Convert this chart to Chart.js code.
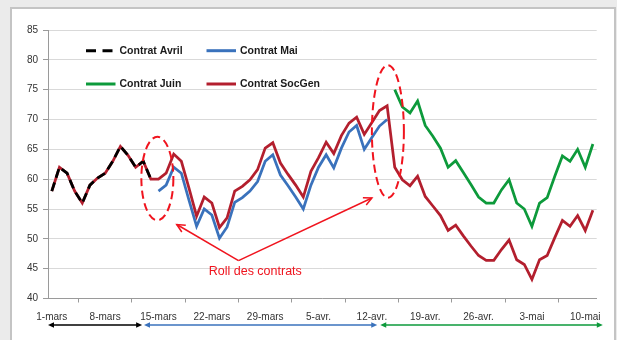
<!DOCTYPE html>
<html><head><meta charset="utf-8">
<script src="https://cdn.jsdelivr.net/npm/chart.js@4.4.1/dist/chart.umd.min.js"></script>
<style>html,body{margin:0;padding:0;background:#ebebeb;overflow:hidden}</style>
</head><body>
<canvas id="c" width="617" height="340"></canvas>
<script>
const categories = [
 "1-mars","2-mars","3-mars","4-mars","5-mars","6-mars","7-mars","8-mars","9-mars","10-mars",
 "11-mars","12-mars","13-mars","14-mars","15-mars","16-mars","17-mars","18-mars","19-mars","20-mars",
 "21-mars","22-mars","23-mars","24-mars","25-mars","26-mars","27-mars","28-mars","29-mars","30-mars","31-mars",
 "1-avr.","2-avr.","3-avr.","4-avr.","5-avr.","6-avr.","7-avr.","8-avr.","9-avr.","10-avr.",
 "11-avr.","12-avr.","13-avr.","14-avr.","15-avr.","16-avr.","17-avr.","18-avr.","19-avr.","20-avr.",
 "21-avr.","22-avr.","23-avr.","24-avr.","25-avr.","26-avr.","27-avr.","28-avr.","29-avr.","30-avr.",
 "1-mai","2-mai","3-mai","4-mai","5-mai","6-mai","7-mai","8-mai","9-mai","10-mai","11-mai"
];
const tickLabels = ["1-mars","8-mars","15-mars","22-mars","29-mars","5-avr.","12-avr.","19-avr.","26-avr.","3-mai","10-mai"];
const yTicks = [40,45,50,55,60,65,70,75,80,85];

const avril = [58,62,61,58,56,59,60.2,61,63,65.5,64,62,63,60];
const socgen = [58,62,61,58,56,59,60.2,61,63,65.5,64,62,63,60,
 60,61,64.2,63,58.5,53.8,57,56,51.9,53.5,58,58.8,59.9,61.6,65.2,66.1,62.7,60.8,59,57,
 61.3,63.6,66.2,64.3,67.3,69.4,70.4,67.5,69.5,71.5,72.3,62,59.9,58.9,60.5,57.1,55.5,53.9,
 51.4,52.3,50.5,48.8,47.2,46.4,46.4,48.2,49.8,46.5,45.7,43.2,46.5,47.2,50.2,53.1,52.1,53.9,51.4,54.8];
const maiStart = 14;
const mai = [58,59,62,61,56.5,52.1,55,54,50.1,52,56.1,56.9,58,59.6,63,64.1,60.7,58.9,57,55,
 59,62,64.1,61.9,65.2,67.9,69,65,67,68.9,70];
const juinStart = 45;
const juin = [75,72.1,71.1,73.1,69,67.2,65.2,62,63.1,61.1,59.1,57,56,56,58.2,59.9,56,55,52.1,56,56.9,60.5,63.9,63,65,62,65.9];

function pad(arr, start){ const out = new Array(categories.length).fill(null); arr.forEach((v,i)=>out[start+i]=v); return out; }

const BLACK='#000000', BLUE='#3a72bc', GREEN='#0d9a3b', RED='#b31f2e', ANN='#f0141e';
const legendItems = [
 {label:'Contrat Avril', color:BLACK, dash:[10,6.5], row:0, col:0},
 {label:'Contrat Mai', color:BLUE, dash:[], row:0, col:1},
 {label:'Contrat Juin', color:GREEN, dash:[], row:1, col:0},
 {label:'Contrat SocGen', color:RED, dash:[], row:1, col:1}
];
// annotation geometry in data units (category index, value)
const ellipses = [ {cx:13.85, cy:60.1, rx:2.1, ry:7.0}, {cx:44.1, cy:68.0, rx:2.1, ry:11.1} ];
const rollText = {x:26.7, y:44.5, text:'Roll des contrats'};
const rollVertex = {x:24.5, y:46.35};
const rollTips = [ {x:16.4, y:52.4}, {x:42.0, y:56.85} ];
const periodArrows = [ {from:-0.5, to:11.85, color:BLACK}, {from:12.1, to:42.7, color:BLUE}, {from:43.1, to:72.3, color:GREEN} ];

const tickFont = {family:"'Liberation Sans',Arial,sans-serif", size:10};

const deco = {
 id:'deco',
 beforeDraw(chart){
  const c=chart.ctx; c.save();
  c.fillStyle='#ebebeb'; c.fillRect(0,0,chart.width,chart.height);
  c.fillStyle='#ffffff'; c.fillRect(11,8,604,340);
  c.strokeStyle='#c4c4c4'; c.lineWidth=2; c.strokeRect(11,8,604,345);
  c.restore();
 },
 afterDraw(chart){
  const c=chart.ctx, xs=chart.scales.x, ys=chart.scales.y;
  const X=v=>xs.getPixelForValue(v), Y=v=>ys.getPixelForValue(v);
  c.save();
  // legend
  c.font="bold 10.5px 'Liberation Sans',Arial,sans-serif"; c.textBaseline='middle'; c.fillStyle='#1a1a1a';
  legendItems.forEach(it=>{
    const lx = it.col===0 ? 86 : 206.5, ly = it.row===0 ? 50.7 : 84;
    c.strokeStyle=it.color; c.lineWidth=3; c.setLineDash(it.dash); c.lineCap='butt';
    c.beginPath(); c.moveTo(lx,ly); c.lineTo(lx+29.5,ly); c.stroke();
    c.setLineDash([]);
    c.fillText(it.label, lx+33.5, ly+0.5);
  });
  // ellipses
  c.strokeStyle=ANN; c.lineWidth=2; c.setLineDash([8,4.5]);
  ellipses.forEach(e=>{
    const cx=X(e.cx), cy=Y(e.cy), rx=Math.abs(X(e.cx+e.rx)-cx), ry=Math.abs(Y(e.cy+e.ry)-cy);
    c.beginPath(); c.ellipse(cx,cy,rx,ry,0,0,Math.PI*2); c.stroke();
  });
  c.setLineDash([]);
  // roll lines
  c.lineWidth=1.5; c.strokeStyle=ANN;
  const vx=X(rollVertex.x), vy=Y(rollVertex.y);
  rollTips.forEach(t=>{
    const tx=X(t.x), ty=Y(t.y);
    c.beginPath(); c.moveTo(vx,vy); c.lineTo(tx,ty); c.stroke();
    const a=Math.atan2(ty-vy,tx-vx), L=9, w=0.45;
    c.beginPath();
    c.moveTo(tx-L*Math.cos(a-w), ty-L*Math.sin(a-w)); c.lineTo(tx,ty);
    c.lineTo(tx-L*Math.cos(a+w), ty-L*Math.sin(a+w)); c.stroke();
  });
  c.fillStyle=ANN; c.font="12.5px 'Liberation Sans',Arial,sans-serif"; c.textAlign='center'; c.textBaseline='middle';
  c.fillText(rollText.text, X(rollText.x), Y(rollText.y));
  // period arrows below axis
  const ay = chart.chartArea.bottom + 26.5;
  periodArrows.forEach(p=>{
    const x1=X(p.from), x2=X(p.to);
    c.strokeStyle=p.color; c.fillStyle=p.color; c.lineWidth=1.3;
    c.beginPath(); c.moveTo(x1+4,ay); c.lineTo(x2-4,ay); c.stroke();
    c.beginPath(); c.moveTo(x1,ay); c.lineTo(x1+6,ay-2.8); c.lineTo(x1+6,ay+2.8); c.closePath(); c.fill();
    c.beginPath(); c.moveTo(x2,ay); c.lineTo(x2-6,ay-2.8); c.lineTo(x2-6,ay+2.8); c.closePath(); c.fill();
  });
  c.restore();
 }
};

new Chart(document.getElementById('c'), {
 type:'line',
 data:{ labels:categories, datasets:[
  {label:'Contrat Avril', data:pad(avril,0), borderColor:BLACK, borderWidth:2.75, borderDash:[9,5]},
  {label:'Contrat SocGen', data:socgen, borderColor:RED, borderWidth:2.75},
  {label:'Contrat Mai', data:pad(mai,maiStart), borderColor:BLUE, borderWidth:2.75},
  {label:'Contrat Juin', data:pad(juin,juinStart), borderColor:GREEN, borderWidth:2.75}
 ]},
 options:{
  responsive:false, animation:false, devicePixelRatio:1,
  layout:{padding:{left:0, top:30, right:20.3, bottom:0}},
  elements:{point:{radius:0, hoverRadius:0}, line:{tension:0, borderJoinStyle:'miter', fill:false}},
  plugins:{legend:{display:false}, tooltip:{enabled:false}},
  scales:{
   x:{ type:'category', offset:true,
     grid:{offset:true, drawOnChartArea:false, drawTicks:true, tickLength:4, color:'#9a9a9a', tickColor:'#9a9a9a'},
     border:{color:'#9a9a9a', width:1},
     ticks:{autoSkip:false, maxRotation:0, minRotation:0, padding:8.5, font:tickFont, color:'#333333',
       callback:(v,i)=> tickLabels.includes(categories[i]) ? categories[i] : null},
     afterFit:s=>{s.height=41.5;} },
   y:{ min:40, max:85,
     afterBuildTicks:s=>{ s.ticks = yTicks.map(v=>({value:v})); },
     grid:{color:'#d9d9d9', tickColor:'#9a9a9a', tickLength:5, lineWidth:1},
     border:{color:'#9a9a9a', width:1},
     ticks:{padding:5, font:tickFont, color:'#333333'},
     afterFit:s=>{s.width=48;} }
  }
 },
 plugins:[deco]
});
</script>
</body></html>
